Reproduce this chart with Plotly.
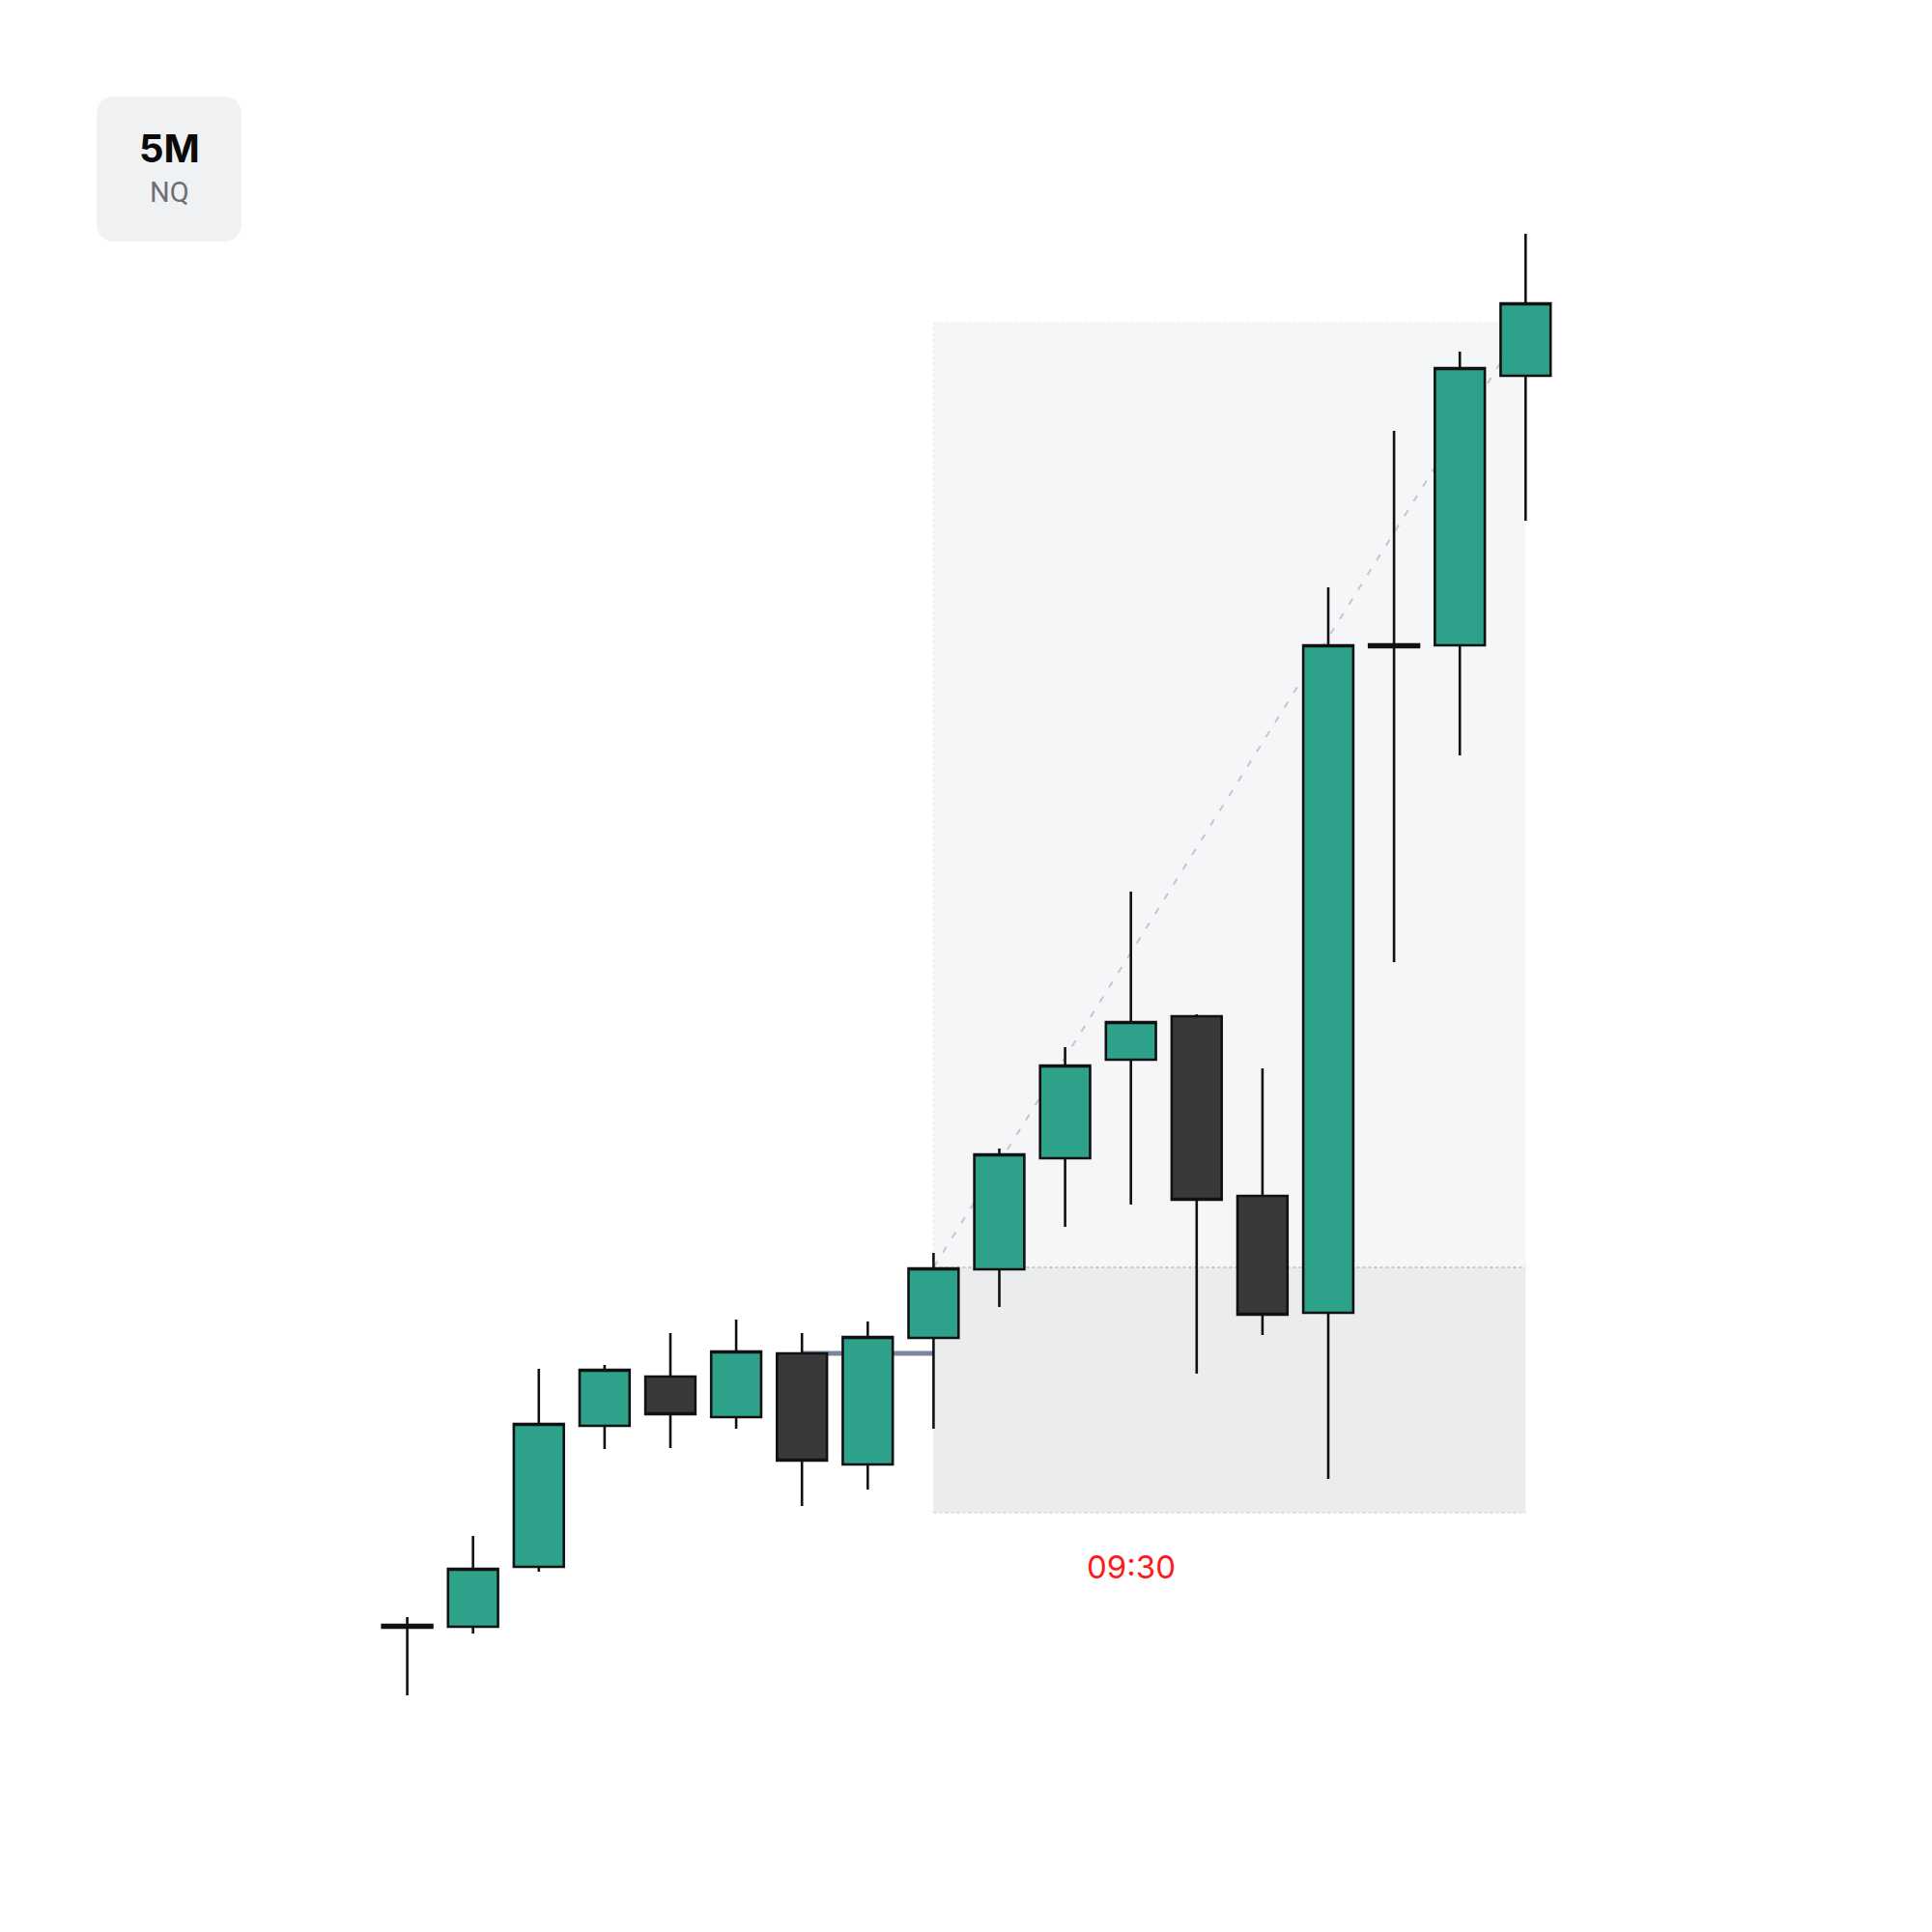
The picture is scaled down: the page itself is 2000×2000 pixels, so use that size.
import plotly.graph_objects as go

# 5 minute NQ candles, 08:35 -> 10:00
times = ["08:35", "08:40", "08:45", "08:50", "08:55", "09:00", "09:05", "09:10", "09:15",
         "09:20", "09:25", "09:30", "09:35", "09:40", "09:45", "09:50", "09:55", "10:00"]
opens = [21579.5, 21579.0, 21594.5, 21631.0, 21643.75, 21633.25, 21649.75, 21621.0, 21653.75,
         21671.5, 21700.25, 21725.75, 21737.0, 21690.5, 21660.25, 21833.25, 21833.0, 21902.75]
highs = [21581.5, 21602.5, 21645.75, 21646.75, 21655.0, 21658.5, 21655.0, 21658.0, 21675.75,
         21702.75, 21729.0, 21769.25, 21737.5, 21723.5, 21848.0, 21888.5, 21909.0, 21939.5]
lows = [21561.25, 21577.25, 21593.25, 21625.0, 21625.25, 21630.25, 21610.25, 21614.5, 21630.25,
        21661.75, 21682.5, 21688.25, 21644.5, 21654.5, 21617.25, 21751.0, 21804.5, 21865.25]
closes = [21578.75, 21594.0, 21631.5, 21645.5, 21634.0, 21650.25, 21622.0, 21654.0, 21671.75,
          21701.25, 21724.25, 21735.5, 21689.5, 21659.75, 21833.0, 21832.5, 21904.75, 21921.5]

# position tool levels
entry = 21672.0
target = 21916.5
stop = 21608.5
pos_start = 8   # index of 09:15
pos_end = 17    # index of 10:00

# level line from the 09:05 open
level = opens[6]
level_start = 6
level_end = 8

marker_label = "09:30"
marker_idx = times.index(marker_label)

fig = go.Figure()

fig.add_trace(go.Candlestick(
    x=times, open=opens, high=highs, low=lows, close=closes,
    increasing=dict(fillcolor="#2ea18a", line=dict(color="#111111", width=2.6)),
    decreasing=dict(fillcolor="#383a39", line=dict(color="#111111", width=2.6)),
    whiskerwidth=0,
    hoverinfo="skip",
))

# reward zone
fig.add_shape(type="rect", xref="x", yref="y", layer="below",
              x0=pos_start, x1=pos_end, y0=entry, y1=target,
              fillcolor="#f5f6f8", line=dict(width=0))
# risk zone
fig.add_shape(type="rect", xref="x", yref="y", layer="below",
              x0=pos_start, x1=pos_end, y0=stop, y1=entry,
              fillcolor="#ebecee", line=dict(width=0))
# zone edges
fig.add_shape(type="line", xref="x", yref="y", layer="below",
              x0=pos_start, x1=pos_end, y0=target, y1=target,
              line=dict(color="#ebecee", width=1.2, dash="dot"))
fig.add_shape(type="line", xref="x", yref="y", layer="below",
              x0=pos_start, x1=pos_start, y0=stop, y1=target,
              line=dict(color="#eaebee", width=1.2, dash="dot"))
fig.add_shape(type="line", xref="x", yref="y", layer="below",
              x0=pos_start, x1=pos_end, y0=stop, y1=stop,
              line=dict(color="#d4d5d8", width=1.5, dash="dot"))
# entry line
fig.add_shape(type="line", xref="x", yref="y", layer="below",
              x0=pos_start, x1=pos_end, y0=entry, y1=entry,
              line=dict(color="#bcbdc1", width=1.6, dash="dot"))
# diagonal
fig.add_shape(type="line", xref="x", yref="y", layer="below",
              x0=pos_start, x1=pos_end, y0=entry, y1=target,
              line=dict(color="#c4c6ca", width=2, dash="7px,11px"))
# level line
fig.add_shape(type="line", xref="x", yref="y", layer="below",
              x0=level_start, x1=level_end, y0=level, y1=level,
              line=dict(color="#7a859e", width=5))

# label box top left (paper coords, page has an 8px offset)
r = 0.01
bx0, bx1, by0, by1 = 0.046, 0.121, 0.879, 0.954
path = (f"M {bx0 + r},{by1} L {bx1 - r},{by1} Q {bx1},{by1} {bx1},{by1 - r} "
        f"L {bx1},{by0 + r} Q {bx1},{by0} {bx1 - r},{by0} "
        f"L {bx0 + r},{by0} Q {bx0},{by0} {bx0},{by0 + r} "
        f"L {bx0},{by1 - r} Q {bx0},{by1} {bx0 + r},{by1} Z")
fig.add_shape(type="path", xref="paper", yref="paper", path=path,
              fillcolor="#f0f1f3", line=dict(width=0))

fig.add_annotation(xref="paper", yref="paper", x=0.0835, y=0.9275, text="<b>5M</b>",
                   showarrow=False, xanchor="center", yanchor="middle",
                   font=dict(family="Inter", size=40, color="#0a0a0a"))
fig.add_annotation(xref="paper", yref="paper", x=0.0835, y=0.9045, text="NQ",
                   showarrow=False, xanchor="center", yanchor="middle",
                   font=dict(family="Roboto", size=29, color="#6b6f76"))

fig.add_annotation(xref="x", yref="y", x=marker_idx, y=stop, text=marker_label,
                   showarrow=False, xanchor="center", yanchor="top", yshift=-34,
                   font=dict(family="Inter", size=33, color="#ff1a1a"))

fig.update_layout(
    width=2000, height=2000,
    margin=dict(l=0, r=0, t=0, b=0),
    paper_bgcolor="white", plot_bgcolor="white",
    showlegend=False,
    boxgap=0.24, boxgroupgap=0,
    xaxis=dict(type="category", range=[-6.073, 23.295], visible=False,
               rangeslider=dict(visible=False)),
    yaxis=dict(range=[21498, 21998], visible=False),
)

fig.write_html("out.html")
